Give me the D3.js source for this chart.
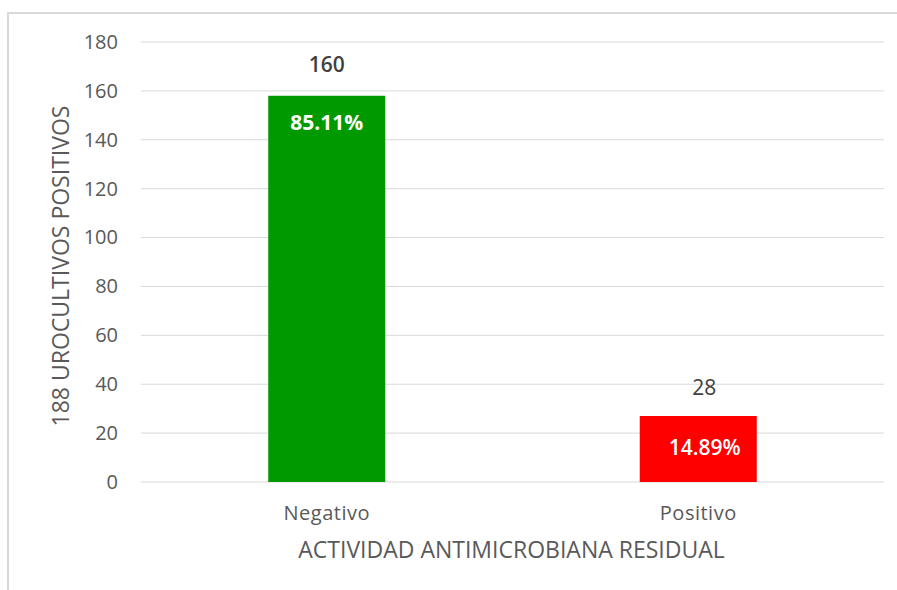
<!DOCTYPE html>
<html>
<head>
<meta charset="utf-8">
<script src="https://cdn.jsdelivr.net/npm/d3@7"></script>
<style>
  body { margin: 0; background: #fff; }
  svg text { font-family: "Open Sans", "Noto Sans", sans-serif; }
</style>
</head>
<body>
<svg id="chart" width="897" height="590"></svg>
<script>
const categories = ["Negativo", "Positivo"]
const barValues = [158, 27]
const topLabels = [160, 28]
const pctLabels = ["85.11%", "14.89%"]
const barColors = ["#009900", "#ff0000"]
const yTicks = [0, 20, 40, 60, 80, 100, 120, 140, 160, 180]

const svg = d3.select("#chart")
const plotL = 141, plotR = 884, plotT = 42, plotB = 482

// outer frame
svg.append("rect")
  .attr("x", 8).attr("y", 13)
  .attr("width", 900).attr("height", 600)
  .attr("fill", "none").attr("stroke", "#d9d9d9").attr("stroke-width", 2)

const y = d3.scaleLinear().domain([0, 180]).range([plotB, plotT])
const x = d3.scaleBand().domain(categories).range([plotL, plotR])
const barW = x.bandwidth() * 0.315
const cx = d => x(d) + x.bandwidth() / 2

// gridlines
svg.append("g").selectAll("line")
  .data(yTicks)
  .enter().append("line")
    .attr("x1", plotL).attr("x2", plotR)
    .attr("y1", d => y(d)).attr("y2", d => y(d))
    .attr("stroke", "#d9d9d9").attr("stroke-width", 1)

// y axis labels
const yAxis = svg.append("g")
  .attr("transform", "translate(" + (plotL - 23) + ",0)")
  .call(d3.axisLeft(y).tickValues(yTicks).tickSize(0).tickPadding(0))
yAxis.select(".domain").remove()
yAxis.selectAll("text")
  .attr("fill", "#595959").style("font-size", "20px")
  .style("font-family", "'Open Sans', sans-serif")

// bars
svg.append("g").selectAll("rect")
  .data(categories)
  .enter().append("rect")
    .attr("x", d => cx(d) - barW / 2)
    .attr("y", (d, i) => y(barValues[i]))
    .attr("width", barW)
    .attr("height", (d, i) => plotB - y(barValues[i]))
    .attr("fill", (d, i) => barColors[i])

// value labels above bars
svg.append("g").selectAll("text")
  .data(categories)
  .enter().append("text")
    .attr("x", (d, i) => cx(d) + (i === 1 ? 6 : 0))
    .attr("y", (d, i) => y(topLabels[i]) - 19)
    .attr("text-anchor", "middle")
    .attr("fill", "#404040")
    .style("font-size", "21px")
    .style("font-weight", (d, i) => i === 0 ? "600" : "normal")
    .text((d, i) => topLabels[i])

// percent labels inside bars
svg.append("g").selectAll("text")
  .data(categories)
  .enter().append("text")
    .attr("x", (d, i) => cx(d) + (i === 1 ? 6.5 : 0))
    .attr("y", (d, i) => y(barValues[i]) + (i === 0 ? 34 : 39))
    .attr("text-anchor", "middle")
    .attr("fill", "#fff")
    .style("font-size", "21px")
    .style("font-weight", (d, i) => i === 0 ? "bold" : "600")
    .text((d, i) => pctLabels[i])

// category labels
svg.append("g").selectAll("text")
  .data(categories)
  .enter().append("text")
    .attr("x", cx)
    .attr("y", 520)
    .attr("text-anchor", "middle")
    .attr("fill", "#595959")
    .style("font-size", "20px")
    .style("letter-spacing", "0.5px")
    .text(d => d)

// axis titles
svg.append("text")
  .attr("x", (plotL + plotR) / 2 - 1).attr("y", 558)
  .attr("text-anchor", "middle")
  .attr("fill", "#595959")
  .style("font-size", "23px")
  .text("ACTIVIDAD ANTIMICROBIANA RESIDUAL")

svg.append("text")
  .attr("transform", "translate(69,266) rotate(-90)")
  .attr("text-anchor", "middle")
  .attr("fill", "#595959")
  .style("font-size", "23px")
  .text("188 UROCULTIVOS POSITIVOS")
</script>
</body>
</html>
